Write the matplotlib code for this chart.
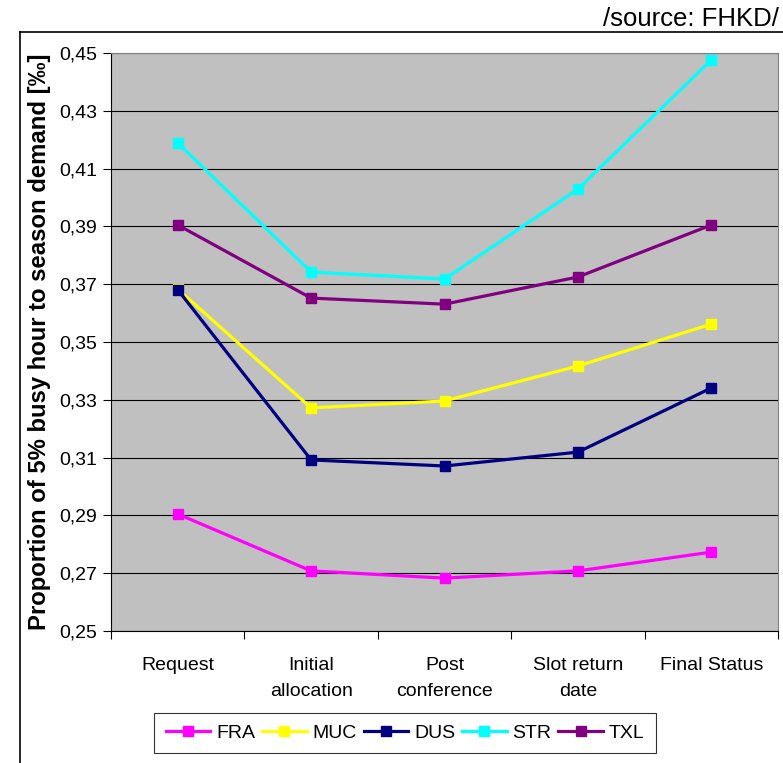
import matplotlib
matplotlib.use("Agg")
import matplotlib.pyplot as plt
from matplotlib.lines import Line2D
from matplotlib.ticker import FuncFormatter

plt.rcParams['font.family'] = ['Liberation Sans', 'DejaVu Sans']

stages = ["Request", "Initial\nallocation", "Post\nconference", "Slot return\ndate", "Final Status"]
fra = [0.2905, 0.2708, 0.2683, 0.2708, 0.2773]
muc = [0.3683, 0.3272, 0.3296, 0.3417, 0.3562]
dus = [0.3681, 0.3092, 0.3071, 0.3119, 0.3341]
strr = [0.4189, 0.3742, 0.3718, 0.4029, 0.4476]
txl = [0.3905, 0.3652, 0.3631, 0.3725, 0.3905]

series = [("FRA", fra, "#FF00FF"), ("MUC", muc, "#FFFF00"), ("DUS", dus, "#000080"),
          ("STR", strr, "#00FFFF"), ("TXL", txl, "#800080")]

fig = plt.figure(figsize=(7.83, 7.63), dpi=100)
ax = fig.add_axes([0.1418, 0.173, 0.8518, 0.7575])
ax.set_facecolor("#C0C0C0")

x = list(range(len(stages)))
for name, vals, col in series:
    ax.plot(x, vals, color=col, lw=2.3, marker="s", markersize=7.5, label=name, zorder=3)

ax.set_ylim(0.25, 0.45)
ax.set_yticks([0.25 + 0.02 * i for i in range(11)])
ax.yaxis.set_major_formatter(FuncFormatter(lambda v, p: ("%.2f" % v).replace(".", ",")))
ax.grid(axis="y", color="black", lw=0.8, zorder=1)
ax.tick_params(axis="y", length=6, width=0.8, labelsize=14, pad=4)

ax.set_xlim(-0.5, 4.5)
ax.set_xticks(x)
ax.set_xticklabels(stages, fontsize=14, linespacing=1.65)
ax.set_xticks([i - 0.5 for i in range(6)], minor=True)
ax.tick_params(axis="x", which="major", length=0, pad=19)
ax.tick_params(axis="x", which="minor", length=6, width=0.8)

for s in ["top", "right"]:
    ax.spines[s].set_color("#808080")
for s in ["left", "bottom"]:
    ax.spines[s].set_color("black")

ax.set_ylabel("Proportion of 5% busy hour to season demand [‰]", fontsize=17.2,
              fontweight="bold", labelpad=6)

leg = ax.legend(loc="center", bbox_to_anchor=(0.441, -0.1765), ncol=5, fontsize=14,
                frameon=True, fancybox=False, edgecolor="black", handlelength=2.3,
                handletextpad=0.3, columnspacing=0.35, borderpad=0.6)
leg.get_frame().set_linewidth(0.8)

# outer chart frame
fig.add_artist(Line2D([20 / 783, 1], [1 - 32 / 763, 1 - 32 / 763], color="black", lw=1.2))
fig.add_artist(Line2D([20 / 783, 20 / 783], [0, 1 - 32 / 763], color="black", lw=1.2))

fig.text(603 / 783, 1 - 19 / 763, "/source: FHKD/", fontsize=18.5, va="center", ha="left")

fig.savefig("out.png", dpi=100)
